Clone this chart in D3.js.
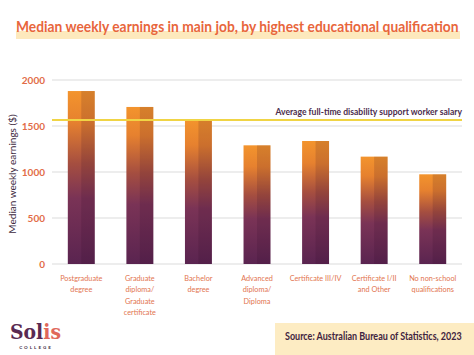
<!DOCTYPE html>
<html><head><meta charset="utf-8">
<script src="https://cdn.jsdelivr.net/npm/d3@7"></script>
<style>
html,body{margin:0;padding:0;background:#fff;}
svg{display:block;font-family:Lato, "Open Sans", sans-serif;}
</style></head>
<body>
<svg id="chart" width="474" height="355"></svg>
<script>
const categories = [
  ["Postgraduate","degree"],
  ["Graduate","diploma/","Graduate","certificate"],
  ["Bachelor","degree"],
  ["Advanced","diploma/","Diploma"],
  ["Certificate III/IV"],
  ["Certificate I/II","and Other"],
  ["No non-school","qualifications"]
];
const earnings = [1880, 1707, 1576, 1290, 1337, 1167, 975];
const yTicks = [0, 500, 1000, 1500, 2000];
const referenceValue = 1565;
const referenceLabel = "Average full-time disability support worker salary";
const titleText = "Median weekly earnings in main job, by highest educational qualification";
const yTitle = "Median weekly earnings ($)";
const sourceText = "Source: Australian Bureau of Statistics, 2023";

const svg = d3.select("#chart");
const mLeft = 52, mRight = 462, mTop = 80, mBottom = 264;

const x = d3.scaleBand().domain(d3.range(categories.length)).range([mLeft, mRight]).paddingInner(0.54).paddingOuter(0.27);
const y = d3.scaleLinear().domain([0, 2000]).range([mBottom, mTop]);

// fit a text to a target width by shrinking font, then stretch vertically to keep height
function fitText(t, targetW, ax, ay, rot) {
  const fs = +t.attr("font-size");
  const w = t.node().getComputedTextLength();
  if (w > targetW) {
    const k = targetW / w;
    t.attr("font-size", fs * k);
    const base = rot ? `translate(${ax},${ay}) rotate(${rot})` : `translate(${ax},${ay})`;
    t.attr("transform", `${base} scale(1,${1/k})`);
  } else {
    t.attr("transform", rot ? `translate(${ax},${ay}) rotate(${rot})` : `translate(${ax},${ay})`);
  }
}

const defs = svg.append("defs");
const grad = defs.append("linearGradient").attr("id","barGrad").attr("x1",0).attr("y1",0).attr("x2",0).attr("y2",1);
[[0,"#f3942d"],[0.18,"#e6812f"],[0.42,"#a54e40"],[0.62,"#7a3356"],[1,"#5a2450"]].forEach(s=>grad.append("stop").attr("offset",s[0]).attr("stop-color",s[1]));

// title highlight
svg.append("rect").attr("x",16).attr("y",31).attr("width",444).attr("height",8).attr("fill","#fde9bd");
const title = svg.append("text").attr("x",0).attr("y",0).attr("font-size",15.5).attr("font-weight",700)
  .attr("fill","#e8663c").text(titleText);
fitText(title, 443, 16, 32);

// gridlines
svg.append("g").selectAll("line").data(yTicks).join("line")
  .attr("x1",mLeft).attr("x2",mRight).attr("y1",d=>y(d)).attr("y2",d=>y(d))
  .attr("stroke","#dcdcdc").attr("stroke-width",1.2);

// y axis labels
const yAxis = svg.append("g").attr("transform",`translate(${mLeft},0)`)
  .call(d3.axisLeft(y).tickValues(yTicks).tickSize(0).tickPadding(7).tickFormat(d3.format("d")));
yAxis.select(".domain").remove();
yAxis.selectAll("text").attr("font-size",10).attr("font-weight",700).attr("fill","#e26c47").attr("font-family","Lato, sans-serif");

// y title
const yt = svg.append("text").attr("x",0).attr("y",0)
  .attr("text-anchor","middle").attr("font-size",10).attr("fill","#3d2a3e").text(yTitle);
fitText(yt, 144, 16, (mTop+mBottom)/2 + 2, -90);

// bars
const bars = svg.append("g").selectAll("g").data(earnings).join("g");
bars.append("rect").attr("x",(d,i)=>x(i)).attr("y",d=>y(d)).attr("width",x.bandwidth())
  .attr("height",d=>mBottom-y(d)).attr("fill","url(#barGrad)");
bars.append("rect").attr("x",(d,i)=>x(i)+x.bandwidth()/2).attr("y",d=>y(d)).attr("width",x.bandwidth()/2)
  .attr("height",d=>mBottom-y(d)).attr("fill","#2a0a20").attr("opacity",0.14);

// reference line
svg.append("line").attr("x1",mLeft).attr("x2",mRight).attr("y1",y(referenceValue)).attr("y2",y(referenceValue))
  .attr("stroke","#f0d445").attr("stroke-width",2);
const rl = svg.append("text").attr("x",0).attr("y",0).attr("text-anchor","end")
  .attr("font-size",10).attr("font-weight",700).attr("fill","#4b2d4d").text(referenceLabel);
fitText(rl, 187, mRight, y(referenceValue) - 5);

// x labels
const xl = svg.append("g").selectAll("text").data(categories).join("text")
  .attr("x",(d,i)=>x(i)+x.bandwidth()/2).attr("y",281).attr("text-anchor","middle")
  .attr("font-size",8.5).attr("fill","#e2744f");
xl.each(function(lines){
  const t = d3.select(this);
  lines.forEach((l,j)=>t.append("tspan").attr("x",t.attr("x")).attr("dy", j===0?0:11.5).text(l));
});
xl.attr("transform",function(d,i){const cx=x(i)+x.bandwidth()/2; return `translate(${cx},0) scale(0.86,1) translate(${-cx},0)`;});

// source box
svg.append("rect").attr("x",275).attr("y",323).attr("width",199).attr("height",32).attr("fill","#fdecc3");
const src = svg.append("text").attr("x",0).attr("y",0).attr("font-size",11).attr("font-weight",700).attr("fill","#3f2440").text(sourceText);
fitText(src, 177, 285, 340);

// logo
const logo = svg.append("g");
const lt = logo.append("text").attr("x",0).attr("y",0).attr("font-size",20).attr("font-weight",700)
  .attr("font-family","'DejaVu Serif', serif");
lt.append("tspan").attr("fill","#5a2a52").text("Sol");
lt.append("tspan").attr("fill","#e0685a").text("is");
fitText(lt, 51, 10, 339);
logo.append("text").attr("x",36).attr("y",349).attr("text-anchor","middle").attr("font-size",4.5).attr("font-weight",700)
  .attr("fill","#3d2a3e").attr("letter-spacing",2).text("COLLEGE");
</script>
</body></html>
